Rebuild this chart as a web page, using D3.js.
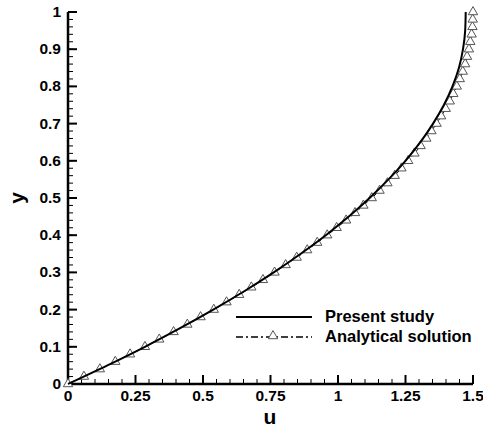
<!DOCTYPE html>
<html>
<head>
<meta charset="utf-8">
<script src="https://cdn.jsdelivr.net/npm/d3@7"></script>
<style>
  body { margin: 0; background: #fff; }
  text { font-family: "Liberation Sans", Arial, sans-serif; font-weight: bold; fill: #000; }
</style>
</head>
<body>
<div id="chart"></div>
<script>
// analytical solution (triangles), y every 0.02
var analyticalY = [0, 0.02, 0.04, 0.06, 0.08, 0.1, 0.12, 0.14, 0.16, 0.18, 0.2, 0.22, 0.24, 0.26, 0.28, 0.3,
  0.32, 0.34, 0.36, 0.38, 0.4, 0.42, 0.44, 0.46, 0.48, 0.5, 0.52, 0.54, 0.56, 0.58, 0.6, 0.62, 0.64, 0.66,
  0.68, 0.7, 0.72, 0.74, 0.76, 0.78, 0.8, 0.82, 0.84, 0.86, 0.88, 0.9, 0.92, 0.94, 0.96, 0.98, 1];
var analyticalU = [0, 0.059, 0.118, 0.175, 0.23, 0.285, 0.338, 0.391, 0.442, 0.491, 0.54, 0.587, 0.634, 0.679,
  0.722, 0.765, 0.806, 0.847, 0.886, 0.923, 0.96, 0.995, 1.03, 1.063, 1.094, 1.125, 1.154, 1.183, 1.21, 1.235,
  1.26, 1.283, 1.306, 1.327, 1.346, 1.365, 1.382, 1.399, 1.414, 1.427, 1.44, 1.451, 1.462, 1.471, 1.478, 1.485,
  1.49, 1.495, 1.498, 1.499, 1.5];

// present study (solid line)
var presentY = [0, 0.05, 0.1, 0.15, 0.2, 0.25, 0.3, 0.35, 0.4, 0.45, 0.5, 0.55, 0.6, 0.65, 0.7, 0.75, 0.8,
  0.85, 0.9, 0.95, 1];
var presentU = [0, 0.146, 0.285, 0.415, 0.538, 0.654, 0.762, 0.862, 0.955, 1.04, 1.117, 1.187, 1.25, 1.305,
  1.352, 1.392, 1.424, 1.448, 1.463, 1.471, 1.473];

var xTicks = [0, 0.25, 0.5, 0.75, 1, 1.25, 1.5];
var yTicks = [0, 0.1, 0.2, 0.3, 0.4, 0.5, 0.6, 0.7, 0.8, 0.9, 1];
var legendLabels = ["Present study", "Analytical solution"];

var width = 483, height = 434;
var margin = { top: 12, left: 68, right: 10, bottom: 50 };

var svg = d3.select("#chart").append("svg")
  .attr("width", width)
  .attr("height", height);

var x = d3.scaleLinear().domain([0, 1.5]).range([margin.left, 473]);
var y = d3.scaleLinear().domain([0, 1]).range([384, margin.top]);

// minor ticks
var xMinor = d3.range(0, 1.5001, 0.05);
var yMinor = d3.range(0, 1.0001, 0.02);

svg.append("g").selectAll("line.xminor")
  .data(xMinor)
  .enter().append("line")
  .attr("x1", d => x(d)).attr("x2", d => x(d))
  .attr("y1", y(0)).attr("y2", y(0) - 5)
  .attr("stroke", "#000").attr("stroke-width", 1);

svg.append("g").selectAll("line.yminor")
  .data(yMinor)
  .enter().append("line")
  .attr("x1", x(0)).attr("x2", x(0) + 5)
  .attr("y1", d => y(d)).attr("y2", d => y(d))
  .attr("stroke", "#000").attr("stroke-width", 1);

// major ticks
svg.append("g").selectAll("line")
  .data(xTicks)
  .enter().append("line")
  .attr("x1", d => x(d)).attr("x2", d => x(d))
  .attr("y1", y(0)).attr("y2", y(0) - 9)
  .attr("stroke", "#000").attr("stroke-width", 2);

svg.append("g").selectAll("line")
  .data(yTicks)
  .enter().append("line")
  .attr("x1", x(0)).attr("x2", x(0) + 9)
  .attr("y1", d => y(d)).attr("y2", d => y(d))
  .attr("stroke", "#000").attr("stroke-width", 2);

// axis lines
svg.append("line")
  .attr("x1", x(0)).attr("x2", x(1.5))
  .attr("y1", y(0)).attr("y2", y(0))
  .attr("stroke", "#000").attr("stroke-width", 2.5);
svg.append("line")
  .attr("x1", x(0)).attr("x2", x(0))
  .attr("y1", y(0) + 1).attr("y2", y(1))
  .attr("stroke", "#000").attr("stroke-width", 2.5);

// tick labels
svg.append("g").selectAll("text")
  .data(xTicks)
  .enter().append("text")
  .attr("x", d => x(d))
  .attr("y", 401)
  .attr("text-anchor", "middle")
  .style("font-size", "15.5px")
  .text(d => d);

svg.append("g").selectAll("text")
  .data(yTicks)
  .enter().append("text")
  .attr("x", 61)
  .attr("y", d => y(d) + 5)
  .attr("text-anchor", "end")
  .style("font-size", "15.5px")
  .text(d => d);

// axis titles
svg.append("text")
  .attr("x", 270).attr("y", 424)
  .attr("text-anchor", "middle")
  .style("font-size", "21px")
  .text("u");

svg.append("text")
  .attr("transform", "translate(24," + y(0.5) + ") rotate(-90)")
  .attr("text-anchor", "middle")
  .style("font-size", "21px")
  .text("y");

// analytical solution: dash-dot line with triangles
var analytical = analyticalY.map((d, i) => ({ u: analyticalU[i], y: d }));
var present = presentY.map((d, i) => ({ u: presentU[i], y: d }));

var line = d3.line()
  .x(d => x(d.u))
  .y(d => y(d.y))
  .curve(d3.curveMonotoneY);

svg.append("path")
  .datum(analytical)
  .attr("d", line)
  .attr("fill", "none")
  .attr("stroke", "#000")
  .attr("stroke-width", 1)
  .attr("stroke-dasharray", "7,3,2,3");

var tri = d3.symbol().type(d3.symbolTriangle).size(38);

svg.append("g").selectAll("path")
  .data(analytical)
  .enter().append("path")
  .attr("d", tri)
  .attr("transform", d => "translate(" + x(d.u) + "," + y(d.y) + ")")
  .attr("fill", "#fff")
  .attr("stroke", "#555")
  .attr("stroke-width", 1);

svg.append("path")
  .datum(present)
  .attr("d", line)
  .attr("fill", "none")
  .attr("stroke", "#000")
  .attr("stroke-width", 2);

// legend
var legend = svg.append("g").attr("class", "legend");

legend.append("line")
  .attr("x1", 236).attr("x2", 312)
  .attr("y1", 317).attr("y2", 317)
  .attr("stroke", "#000").attr("stroke-width", 2);

legend.append("line")
  .attr("x1", 236).attr("x2", 312)
  .attr("y1", 337).attr("y2", 337)
  .attr("stroke", "#000").attr("stroke-width", 1.5)
  .attr("stroke-dasharray", "7,3,2,3");

legend.append("path")
  .attr("d", tri)
  .attr("transform", "translate(273,336)")
  .attr("fill", "#fff")
  .attr("stroke", "#555")
  .attr("stroke-width", 1);

legend.selectAll("text")
  .data(legendLabels)
  .enter().append("text")
  .attr("x", 325)
  .attr("y", (d, i) => 322 + i * 20)
  .style("font-size", "16.5px")
  .text(d => d);
</script>
</body>
</html>
